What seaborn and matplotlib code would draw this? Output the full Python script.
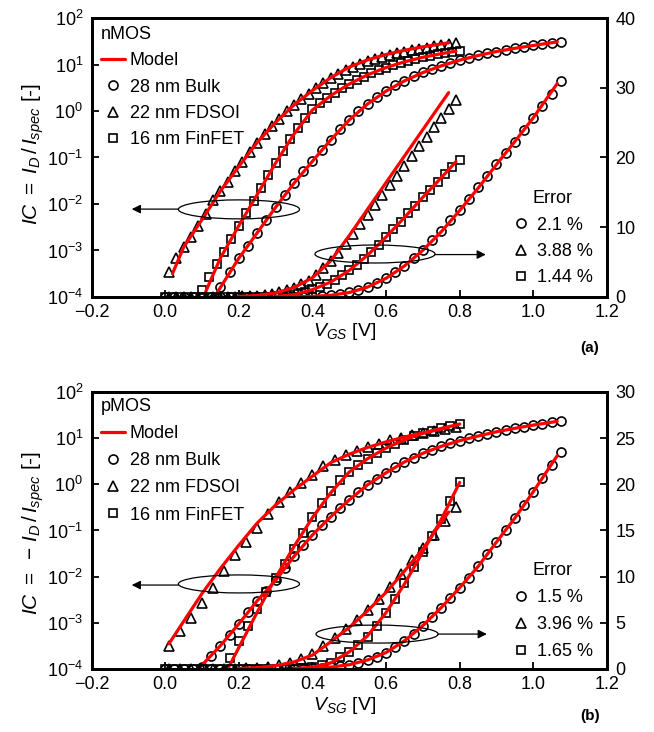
import matplotlib
matplotlib.use("Agg")
import matplotlib.pyplot as plt
import seaborn as sns
from matplotlib.lines import Line2D
from matplotlib.patches import Ellipse
from matplotlib.ticker import FixedLocator, FuncFormatter, NullLocator, LogLocator

# ---------------- data ----------------
# x grids of the measured points
bulk_v = [0.000, 0.025, 0.050, 0.075, 0.100, 0.125, 0.150, 0.175, 0.200, 0.225,
          0.250, 0.275, 0.300, 0.325, 0.350, 0.375, 0.400, 0.425, 0.450, 0.475,
          0.500, 0.525, 0.550, 0.575, 0.600, 0.625, 0.650, 0.675, 0.700, 0.725,
          0.750, 0.775, 0.800, 0.825, 0.850, 0.875, 0.900, 0.925, 0.950, 0.975,
          1.000, 1.025, 1.050, 1.075]
n_fdsoi_v = [0.01, 0.03, 0.05, 0.07, 0.09, 0.11, 0.13, 0.15, 0.17, 0.19,
             0.21, 0.23, 0.25, 0.27, 0.29, 0.31, 0.33, 0.35, 0.37, 0.39,
             0.41, 0.43, 0.45, 0.47, 0.49, 0.51, 0.53, 0.55, 0.57, 0.59,
             0.61, 0.63, 0.65, 0.67, 0.69, 0.71, 0.73, 0.75, 0.77, 0.79]
n_finfet_v = [0.00, 0.02, 0.04, 0.06, 0.08, 0.10, 0.12, 0.14, 0.16, 0.18,
              0.20, 0.22, 0.24, 0.26, 0.28, 0.30, 0.32, 0.34, 0.36, 0.38,
              0.40, 0.42, 0.44, 0.46, 0.48, 0.50, 0.52, 0.54, 0.56, 0.58,
              0.60, 0.62, 0.64, 0.66, 0.68, 0.70, 0.72, 0.74, 0.76, 0.78, 0.80]
p_fdsoi_v = [0.01, 0.04, 0.07, 0.10, 0.13, 0.16, 0.19, 0.22, 0.25, 0.28,
             0.31, 0.34, 0.37, 0.40, 0.43, 0.46, 0.49, 0.52, 0.55, 0.58,
             0.61, 0.64, 0.67, 0.70, 0.73, 0.76, 0.79]
p_finfet_v = [0.000, 0.025, 0.050, 0.075, 0.100, 0.125, 0.150, 0.175, 0.200, 0.225,
              0.250, 0.275, 0.300, 0.325, 0.350, 0.375, 0.400, 0.425, 0.450, 0.475,
              0.500, 0.525, 0.550, 0.575, 0.600, 0.625, 0.650, 0.675, 0.700, 0.725,
              0.750, 0.775, 0.800]

# nMOS measured inversion coefficient
n_bulk_ic = [3.2e-6, 6e-6, 1.2e-5, 2.2e-5, 4.4e-5, 8.5e-5, 1.65e-4, 3.5e-4, 7.0e-4, 1.25e-3,
             2.4e-3, 4.5e-3, 8.5e-3, 0.0155, 0.028, 0.050, 0.083, 0.145, 0.24, 0.40,
             0.65, 0.98, 1.40, 1.98, 2.70, 3.55, 4.50, 5.60, 6.75, 8.1,
             9.5, 11.0, 12.5, 14.1, 15.7, 17.3, 19.0, 20.7, 22.2, 24.0,
             25.7, 27.4, 29.1, 30.9]
n_fdsoi_ic = [3.5e-4, 6.8e-4, 1.17e-3, 1.95e-3, 3.4e-3, 6.2e-3, 0.012, 0.019, 0.030, 0.050,
              0.081, 0.132, 0.21, 0.32, 0.48, 0.68, 0.98, 1.35, 1.82, 2.35,
              3.15, 4.1, 5.1, 6.3, 7.6, 9.0, 10.4, 11.8, 13.2, 14.6,
              16.0, 17.4, 18.8, 20.2, 21.6, 23.0, 24.4, 25.7, 27.0, 28.3]
n_finfet_ic = [6.3e-6, 1.1e-5, 2.0e-5, 4.0e-5, 7.6e-5, 1.4e-4, 2.7e-4, 5.0e-4, 9.5e-4, 1.8e-3,
               3.4e-3, 6.3e-3, 0.0117, 0.0224, 0.042, 0.076, 0.138, 0.245, 0.43, 0.71,
               1.08, 1.45, 1.9, 2.45, 3.1, 3.8, 4.6, 5.5, 6.5, 7.5,
               8.6, 9.7, 10.8, 12.0, 13.1, 14.3, 15.4, 16.5, 17.6, 18.7, 19.7]

# pMOS measured inversion coefficient
p_bulk_ic = [1.6e-5, 2.5e-5, 4.0e-5, 6.5e-5, 1.1e-4, 1.9e-4, 3.2e-4, 5.5e-4, 9.5e-4, 1.7e-3,
             3.0e-3, 5.0e-3, 8.3e-3, 0.0155, 0.0275, 0.049, 0.080, 0.130, 0.20, 0.31,
             0.46, 0.68, 0.98, 1.3, 1.78, 2.4, 3.05, 3.8, 4.7, 5.65,
             6.65, 7.7, 8.8, 9.9, 11.1, 12.4, 13.75, 15.0, 16.35, 17.8,
             19.2, 20.7, 22.1, 23.5]
p_fdsoi_ic = [3.2e-4, 6.5e-4, 1.3e-3, 2.7e-3, 5.6e-3, 0.0132, 0.029, 0.056, 0.115, 0.224,
              0.41, 0.69, 1.07, 1.58, 2.45, 3.35, 4.3, 5.3, 6.4, 7.6,
              8.9, 10.3, 11.8, 13.1, 14.5, 16.0, 17.5]
p_finfet_ic = [3e-7, 8e-7, 2e-6, 5e-6, 1.3e-5, 3.2e-5, 7.4e-5, 1.7e-4, 4.0e-4, 8.5e-4,
               2.0e-3, 4.6e-3, 9.5e-3, 0.019, 0.040, 0.089, 0.20, 0.40, 0.70, 1.25,
               1.85, 2.65, 3.5, 4.7, 6.1, 7.6, 9.3, 11.0, 12.7, 14.4,
               16.2, 18.2, 20.2]

# model curves
n_bulk_model_v = [0.14, 0.20, 0.25, 0.30, 0.35, 0.40, 0.45, 0.50, 0.55, 0.60,
                  0.65, 0.70, 0.75, 0.80, 0.85, 0.90, 0.95, 1.00, 1.065]
n_bulk_model_ic = [1.2e-4, 6.8e-4, 2.4e-3, 8.5e-3, 0.028, 0.083, 0.24, 0.64, 1.42, 2.68,
                   4.45, 6.7, 9.35, 12.4, 15.6, 19.0, 22.3, 25.7, 30.6]
n_fdsoi_model_v = [0.02, 0.05, 0.10, 0.15, 0.20, 0.25, 0.30, 0.35, 0.40, 0.45,
                   0.50, 0.55, 0.60, 0.65, 0.70, 0.77]
n_fdsoi_model_ic = [3.2e-4, 1.17e-3, 4.6e-3, 0.019, 0.064, 0.21, 0.57, 1.35, 2.75, 5.2,
                    8.8, 12.6, 16.4, 20.2, 24.0, 29.3]
n_finfet_model_v = [0.11, 0.15, 0.20, 0.25, 0.30, 0.35, 0.40, 0.45, 0.50, 0.55,
                    0.60, 0.65, 0.70, 0.75, 0.79]
n_finfet_model_ic = [1.3e-4, 6.9e-4, 3.4e-3, 0.016, 0.076, 0.32, 1.05, 2.15, 3.8, 6.0,
                     8.6, 11.4, 14.3, 17.1, 19.4]

p_bulk_model_v = [0.09, 0.15, 0.20, 0.25, 0.30, 0.35, 0.40, 0.45, 0.50, 0.55,
                  0.60, 0.65, 0.70, 0.75, 0.80, 0.85, 0.90, 0.95, 1.00, 1.065]
p_bulk_model_ic = [1.0e-4, 3.2e-4, 9.5e-4, 3.0e-3, 8.3e-3, 0.0275, 0.080, 0.20, 0.46, 0.98,
                   1.78, 3.05, 4.7, 6.65, 8.8, 11.1, 13.75, 16.35, 19.2, 23.1]
p_fdsoi_model_v = [0.01, 0.05, 0.10, 0.15, 0.20, 0.25, 0.30, 0.35, 0.40, 0.45,
                   0.50, 0.55, 0.60, 0.65, 0.70, 0.77]
p_fdsoi_model_ic = [3.5e-4, 1.07e-3, 4.3e-3, 0.015, 0.048, 0.145, 0.355, 0.76, 1.5, 2.95,
                    4.5, 6.3, 8.3, 10.6, 13.0, 17.0]
p_finfet_model_v = [0.17, 0.20, 0.25, 0.30, 0.35, 0.40, 0.45, 0.50, 0.55, 0.60,
                    0.65, 0.70, 0.75, 0.80]
p_finfet_model_ic = [1.0e-4, 2.9e-4, 1.7e-3, 9.5e-3, 0.045, 0.19, 0.66, 1.85, 3.6, 6.1,
                     9.2, 12.7, 16.2, 20.2]

device_labels = ["28 nm Bulk", "22 nm FDSOI", "16 nm FinFET"]
n_errors = ["2.1 %", "3.88 %", "1.44 %"]
p_errors = ["1.5 %", "3.96 %", "1.65 %"]
x_ticks = [-0.2, 0.0, 0.2, 0.4, 0.6, 0.8, 1.0, 1.2]
n_right_ticks = [0, 10, 20, 30, 40]
p_right_ticks = [0, 5, 10, 15, 20, 25, 30]

# ---------------- style ----------------
sns.set_style("ticks")
plt.rcParams["font.family"] = ["Liberation Sans", "DejaVu Sans"]
plt.rcParams["mathtext.fontset"] = "custom"
plt.rcParams["mathtext.rm"] = "Liberation Sans"
plt.rcParams["mathtext.it"] = "Liberation Sans:italic"
plt.rcParams["mathtext.bf"] = "Liberation Sans:bold"
plt.rcParams["axes.unicode_minus"] = True
for k in ("text.color", "axes.labelcolor", "xtick.color", "ytick.color",
          "xtick.labelcolor", "ytick.labelcolor", "axes.edgecolor"):
    plt.rcParams[k] = "black"

RED = "#ff0000"
MARKERS = ["o", "^", "s"]
MSIZE = {"o": 6.5, "^": 7.0, "s": 6.3}
FS = 13

fig = plt.figure(figsize=(6.54, 7.32), dpi=100)
ax_n = fig.add_axes([0.140, 0.5943, 0.788, 0.3811])
ax_p = fig.add_axes([0.140, 0.0861, 0.788, 0.3784])


def marker_handle(m):
    return Line2D([], [], ls="none", marker=m, ms=MSIZE[m], mfc="none",
                  mec="black", mew=1.2)


def panel(ax, data, models, right_ticks, right_max, ylabel, xlabel,
          errors, title, ylab_y, xlab_y, leg_y, err_y, lspace):
    ax.set_yscale("log")
    ax2 = ax.twinx()
    ax2.set_zorder(ax.get_zorder() + 1)
    ax2.patch.set_visible(False)

    for (v, ic), m in zip(data, MARKERS):
        for a in (ax, ax2):
            sns.lineplot(x=v, y=ic, ax=a, estimator=None, sort=False,
                         linestyle="none", marker=m, markersize=MSIZE[m],
                         markerfacecolor="none", markeredgecolor="black",
                         markeredgewidth=1.2, color="black", legend=False)
    for mv, mic in models:
        sns.lineplot(x=mv, y=mic, ax=ax, estimator=None, sort=False,
                     color=RED, linewidth=2.3, legend=False)
        lv = [x for x, y in zip(mv, mic) if y >= 0.02]
        li = [y for y in mic if y >= 0.02]
        sns.lineplot(x=lv, y=li, ax=ax2, estimator=None, sort=False,
                     color=RED, linewidth=2.3, legend=False)

    ax.set_xlim(-0.2, 1.2)
    ax.set_ylim(1e-4, 1e2)
    ax2.set_ylim(0, right_max)
    ax.xaxis.set_major_locator(FixedLocator(x_ticks))
    ax.xaxis.set_major_formatter(FuncFormatter(lambda v, _: f"{v:.1f}".replace("-", "\u2212")))
    ax.yaxis.set_major_locator(LogLocator(base=10, numticks=10))
    ax.yaxis.set_minor_locator(NullLocator())
    ax.xaxis.set_minor_locator(NullLocator())
    ax2.yaxis.set_major_locator(FixedLocator(right_ticks))
    ax2.yaxis.set_minor_locator(NullLocator())

    ax.tick_params(axis="both", which="major", direction="in", length=5, width=1.3,
                   labelsize=FS, top=False, right=False, pad=6, colors="black")
    ax.tick_params(axis="x", pad=5)
    ax2.tick_params(axis="y", which="major", direction="in", length=5, width=1.3,
                    labelsize=FS, pad=6, colors="black")
    for a in (ax, ax2):
        for s in a.spines.values():
            s.set_linewidth(2.0)
            s.set_color("black")
            s.set_visible(True)

    ax.set_ylabel(ylabel, fontsize=15)
    ax.yaxis.set_label_coords(-0.088, ylab_y)
    ax.set_xlabel(xlabel, fontsize=14)
    ax.xaxis.set_label_coords(0.49, xlab_y)
    ax2.set_ylabel("")
    ax2.set_xlabel("")

    h_model = Line2D([], [], color=RED, lw=2.3)
    hs = [marker_handle(m) for m in MARKERS]
    leg1 = ax2.legend([h_model] + hs, ["Model"] + device_labels, title=title,
                      loc="upper left", bbox_to_anchor=(0.0184, leg_y),
                      borderaxespad=0, borderpad=0, frameon=False, fontsize=FS,
                      title_fontsize=FS, handlelength=1.3, handletextpad=0.3,
                      labelspacing=lspace, alignment="left")
    ax2.add_artist(leg1)
    hs2 = [marker_handle(m) for m in MARKERS]
    ax2.legend(hs2, errors, title="Error", loc="upper left",
               bbox_to_anchor=(0.8165, err_y), borderaxespad=0, borderpad=0,
               frameon=False, fontsize=FS, title_fontsize=FS, handlelength=0.95,
               handletextpad=0.42, labelspacing=lspace, alignment="center")
    return ax2


ax2_n = panel(ax_n,
              [(bulk_v, n_bulk_ic), (n_fdsoi_v, n_fdsoi_ic), (n_finfet_v, n_finfet_ic)],
              [(n_bulk_model_v, n_bulk_model_ic), (n_fdsoi_model_v, n_fdsoi_model_ic),
               (n_finfet_model_v, n_finfet_model_ic)],
              n_right_ticks, 40,
              r"$\mathit{IC}\ =\ \mathit{I}_{\mathit{D}}\,/\,\mathit{I}_{\mathit{spec}}$ [-]",
              r"$\mathit{V}_{\mathit{GS}}$ [V]", n_errors, "nMOS",
              0.513, -0.085, 0.972, 0.383, 0.52)
ax2_p = panel(ax_p,
              [(bulk_v, p_bulk_ic), (p_fdsoi_v, p_fdsoi_ic), (p_finfet_v, p_finfet_ic)],
              [(p_bulk_model_v, p_bulk_model_ic), (p_fdsoi_model_v, p_fdsoi_model_ic),
               (p_finfet_model_v, p_finfet_model_ic)],
              p_right_ticks, 30,
              r"$\mathit{IC}\ =\ -\,\mathit{I}_{\mathit{D}}\,/\,\mathit{I}_{\mathit{spec}}$ [-]",
              r"$\mathit{V}_{\mathit{SG}}$ [V]", p_errors, "pMOS",
              0.493, -0.094, 0.978, 0.386, 0.56)

# ellipses and arrows pointing to the relevant axis
for a2, e1, a1, e2, a2r in [
    (ax2_n, (0.286, 0.314, 0.235, 0.068), (0.168, 0.078, 0.315),
     (0.550, 0.154, 0.233, 0.0645), (0.666, 0.765, 0.152)),
    (ax2_p, (0.286, 0.307, 0.235, 0.065), (0.168, 0.078, 0.303),
     (0.554, 0.126, 0.237, 0.065), (0.672, 0.767, 0.126)),
]:
    for (cx, cy, w, h) in (e1, e2):
        a2.add_patch(Ellipse((cx, cy), w, h, transform=a2.transAxes, fill=False,
                             ec="black", lw=0.9, zorder=5))
    for (x0, x1, y) in (a1, a2r):
        a2.annotate("", xy=(x1, y), xytext=(x0, y), xycoords="axes fraction",
                    textcoords="axes fraction",
                    arrowprops=dict(arrowstyle="-|>", color="black", lw=0.9,
                                    mutation_scale=13, shrinkA=0, shrinkB=0))

fig.text(0.902, 0.5246, "(a)", fontsize=11, fontweight="bold", ha="center", va="center")
fig.text(0.902, 0.022, "(b)", fontsize=11, fontweight="bold", ha="center", va="center")

fig.savefig("out.png", dpi=100)
